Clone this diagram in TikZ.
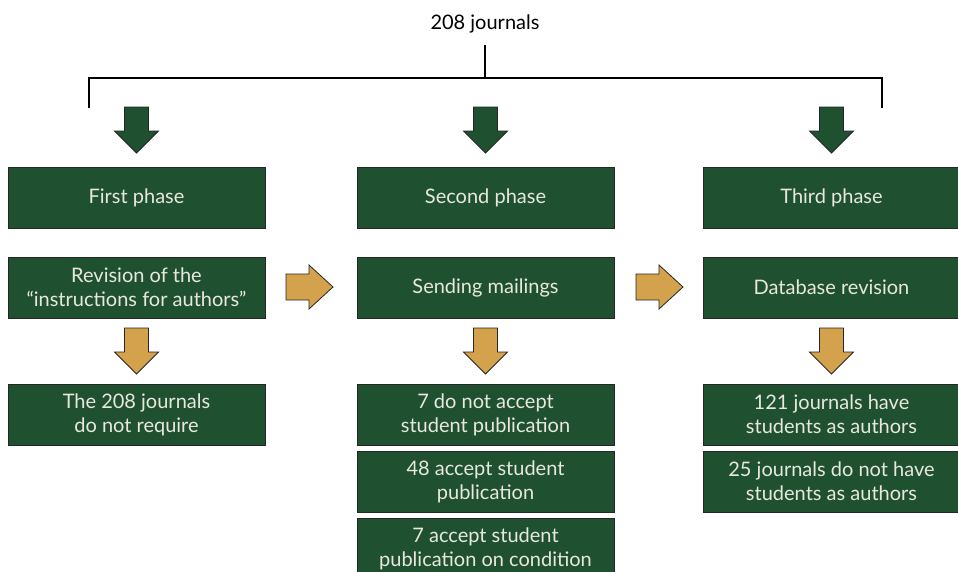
\documentclass[tikz,border=0pt]{standalone}
\usepackage{fontspec}
\setmainfont{Lato}
\usepackage{tikz}
\usetikzlibrary{calc}
\definecolor{boxgreen}{HTML}{1F5130}
\definecolor{arrgold}{HTML}{D4A24C}
\definecolor{boxtext}{HTML}{E8E8DE}
\newcommand{\arrDown}[3]{\draw[arrline,fill=#3] (#1-12,#2) -- (#1+12,#2) -- (#1+12,#2+24) -- (#1+22,#2+24) -- (#1,#2+46) -- (#1-22,#2+24) -- (#1-12,#2+24) -- cycle;}
\newcommand{\arrRight}[2]{\draw[arrline,fill=arrgold] (#1,#2-13) -- (#1+23,#2-13) -- (#1+23,#2-22) -- (#1+47,#2) -- (#1+23,#2+22) -- (#1+23,#2+13) -- (#1,#2+13) -- cycle;}
\begin{document}
\begin{tikzpicture}[x=1pt,y=-1pt]
\tikzstyle{phasebox}=[draw=black!85,line width=0.8pt,fill=boxgreen,text=boxtext,minimum width=257pt,minimum height=61pt,inner sep=2pt,align=center,font=\fontsize{20}{24}\selectfont]
\tikzstyle{arrline}=[draw=black!85,line width=0.8pt]
\useasboundingbox (0,0) rectangle (958,571);
\clip (0,0) rectangle (958,571);
\node[font=\fontsize{20}{24}\selectfont] (top) at (485,24) {208 journals};
\coordinate (B_l) at (89,108);
\coordinate (B_r) at (882,108);
\coordinate (B_m) at (485,78);
\draw[line width=2pt] (top.south |- 0,45) -- (B_m);
\draw[line width=2pt] (B_l) |- (B_m) -| (B_r);
\arrDown{136.5}{107}{boxgreen}
\arrDown{485.5}{107}{boxgreen}
\arrDown{831.5}{107}{boxgreen}
\node[phasebox] (P_1) at (136.5,198) {First phase};
\node[phasebox] (P_2) at (485.5,198) {Second phase};
\node[phasebox] (P_3) at (831.5,198) {Third phase};
\node[phasebox] (S_1) at (136.5,287.5) {Revision of the\\``instructions for authors''};
\node[phasebox] (S_2) at (485.5,287.5) {Sending mailings};
\node[phasebox] (S_3) at (831.5,287.5) {Database revision};
\arrRight{286}{287}
\arrRight{636}{287}
\arrDown{136.5}{328}{arrgold}
\arrDown{485.5}{328}{arrgold}
\arrDown{831.5}{328}{arrgold}
\node[phasebox] (R_1) at (136.5,414.5) {The 208 journals\\do not require};
\node[phasebox] (R_2a) at (485.5,414.5) {7 do not accept\\student publication};
\node[phasebox] (R_2b) at (485.5,481.5) {48 accept student\\publication};
\node[phasebox] (R_2c) at (485.5,548.5) {7 accept student\\publication on condition};
\node[phasebox] (R_3a) at (831.5,414.5) {121 journals have\\students as authors};
\node[phasebox] (R_3b) at (831.5,481.5) {25 journals do not have\\students as authors};
\end{tikzpicture}
\end{document}
